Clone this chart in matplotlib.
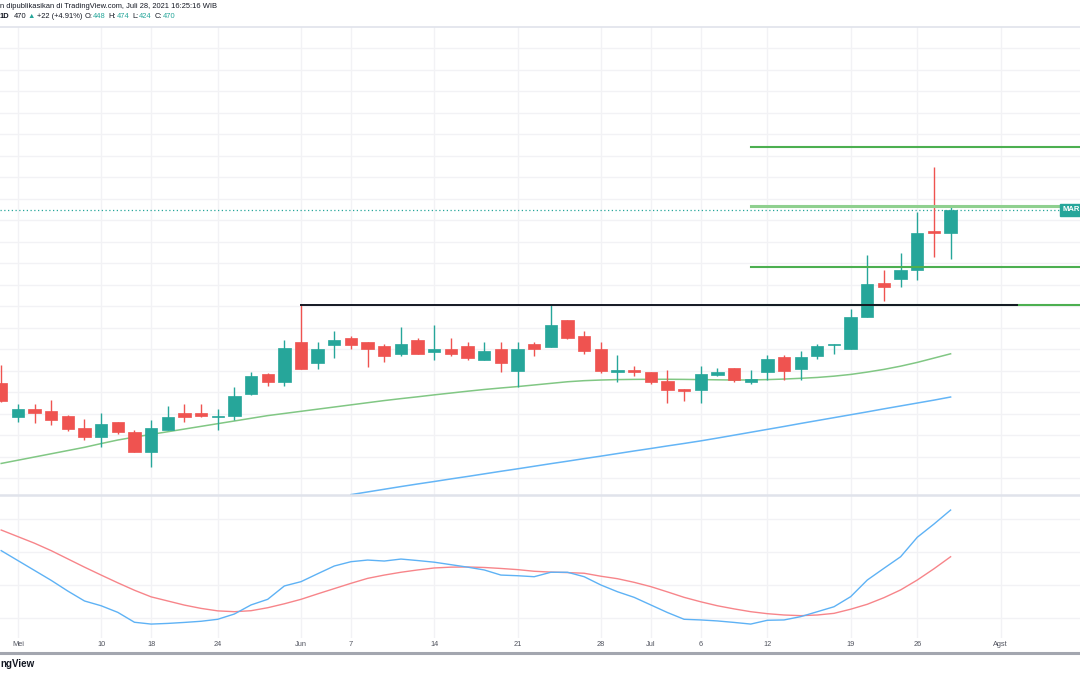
import matplotlib
matplotlib.use("Agg")
import matplotlib.pyplot as plt
from matplotlib.lines import Line2D

# ---------------- data ----------------
dates = ["04-30", "05-03", "05-04", "05-05", "05-06", "05-07", "05-10", "05-11", "05-17", "05-18",
         "05-19", "05-20", "05-21", "05-24", "05-25", "05-27", "05-28", "05-31", "06-02", "06-03",
         "06-04", "06-07", "06-08", "06-09", "06-10", "06-11", "06-14", "06-15", "06-16", "06-17",
         "06-18", "06-21", "06-22", "06-23", "06-24", "06-25", "06-28", "06-29", "06-30", "07-01",
         "07-02", "07-05", "07-06", "07-07", "07-08", "07-09", "07-12", "07-13", "07-14", "07-15",
         "07-16", "07-19", "07-21", "07-22", "07-23", "07-26", "07-27", "07-28"]
future_dates = ["07-29", "07-30", "08-02"]

opens = [309, 277, 285, 283, 278, 267, 259, 273, 263, 245,
         265, 281, 281, 277, 278, 299, 317, 310, 347, 327,
         344, 351, 347, 343, 336, 349, 338, 340, 343, 330,
         340, 320, 345, 342, 367, 353, 340, 319, 321, 319,
         311, 303, 302, 316, 323, 310, 319, 333, 322, 334,
         344, 340, 370, 402, 406, 414, 450, 448]
highs = [326, 289, 289, 293, 279, 275, 281, 273, 265, 274,
         287, 289, 289, 285, 305, 319, 318, 349, 381, 347,
         357, 353, 347, 345, 361, 351, 363, 351, 347, 347,
         347, 347, 347, 381, 367, 357, 347, 335, 325, 319,
         321, 303, 325, 323, 323, 321, 335, 335, 339, 345,
         345, 378, 428, 414, 430, 468, 510, 474]
lows = [291, 273, 272, 270, 264, 256, 249, 261, 245, 231,
        265, 273, 277, 265, 274, 298, 306, 306, 322, 322,
        332, 340, 324, 328, 334, 336, 330, 334, 330, 330,
        319, 305, 334, 342, 350, 336, 318, 310, 315, 308,
        290, 292, 290, 315, 310, 308, 312, 312, 312, 331,
        336, 340, 370, 385, 398, 405, 426, 424]
closes = [292, 285, 281, 274, 266, 259, 271, 263, 245, 267,
          277, 277, 278, 277, 297, 315, 310, 341, 322, 340,
          349, 344, 340, 334, 345, 336, 340, 336, 332, 339,
          327, 340, 340, 363, 351, 339, 320, 321, 319, 310,
          302, 301, 317, 319, 312, 313, 331, 320, 333, 343,
          345, 370, 401, 398, 414, 448, 448, 470]

ma_short = [234, 237, 240, 243, 246, 249, 252.5, 255.8, 258.5, 261,
            263.5, 266, 268.5, 271, 273.5, 276, 278.5, 280.5, 282.5, 284.5,
            286.5, 288.5, 290.5, 292.5, 294.3, 296, 297.8, 299.5, 301.2, 302.8,
            304.2, 305.5, 307, 308.5, 310, 311, 311.6, 312, 312.2, 312.3,
            312.3, 312.2, 312, 311.8, 311.6, 311.7, 312, 312.5, 313.2, 314,
            315.2, 316.8, 319, 321.5, 324.5, 328, 332, 336]
ma_long_start = "06-07"
ma_long = [205, 207.5, 210, 212.5, 214.9, 217.2, 219.6, 221.9, 224.3, 226.7,
           229, 231.4, 233.8, 236.1, 238.5, 240.8, 243.2, 245.6, 247.9, 250.3,
           252.6, 255, 257.6, 260.3, 263, 265.7, 268.4, 271.2, 273.9, 276.6,
           279.3, 282, 284.8, 287.5, 290.2, 292.9, 295.8]

osc_k = [61, 55, 49, 43, 36.5, 30.5, 27.6, 23.6, 17.6, 16.5,
         16.9, 17.5, 18.2, 19.4, 22.6, 28.1, 31.5, 39.6, 42.2, 47,
         51.7, 54.3, 55.3, 54.7, 55.9, 55, 54, 52.5, 51, 49.3,
         46.2, 45.8, 45.2, 47.9, 47.9, 45.2, 40.2, 36.1, 32.7, 28.1,
         23.5, 19.4, 19, 18.4, 17.5, 16.5, 18.8, 19, 21, 24,
         27, 33.1, 43.2, 50.3, 57.3, 69.1, 77.1, 85.6]
osc_d = [73.5, 69.5, 65.5, 61, 56, 51, 46.2, 41.5, 37, 33,
         30.5, 28, 26, 24.5, 24, 24.6, 26.4, 28.8, 31.5, 34.8,
         38, 41.2, 44.2, 46.2, 47.9, 49.3, 50.5, 51, 51.1, 50.8,
         50.2, 49.5, 48.5, 48, 47.7, 47.3, 45.5, 44, 41.8, 39.2,
         36, 32.7, 30, 27.6, 25.7, 24, 22.8, 22, 21.6, 22,
         23, 25.5, 28.5, 32.5, 37.2, 43.2, 50, 57.3]

resistance_level = 381
resistance_from = "06-02"
fib_levels = [528, 473.5, 417, 381]
fib_from = "07-09"
last_close = 470

tick_dates = ["05-03", "05-10", "05-18", "05-24", "06-02", "06-07", "06-14", "06-21",
              "06-28", "07-01", "07-06", "07-12", "07-19", "07-26", "08-02"]
tick_labels = ["Mei", "10", "18", "24", "Jun", "7", "14", "21", "28", "Jul", "6", "12",
               "19", "26", "Agst"]

header1 = "n dipublikasikan di TradingView.com, Juli 28, 2021 16:25:16 WIB"
# (text, colour, weight, gap after in px)
header2 = [("1D", "#131722", "bold", 4), ("470", "#131722", "normal", 1.5), ("\u25B2", "#26a69a", "normal", 1.5),
           ("+22 (+4.91%)", "#131722", "normal", 2.5), ("O:", "#131722", "normal", 0.8), ("448", "#26a69a", "normal", 2.5),
           ("H:", "#131722", "normal", 0.8), ("474", "#26a69a", "normal", 2.5), ("L:", "#131722", "normal", 0.8),
           ("424", "#26a69a", "normal", 2.5), ("C:", "#131722", "normal", 0.8), ("470", "#26a69a", "normal", 0)]

# ---------------- style ----------------
UP = "#26a69a"
DOWN = "#ef5350"
GRID = "#f2f2f5"
FONT = ["Liberation Sans", "DejaVu Sans"]
plt.rcParams["font.family"] = FONT

W, H = 1080, 675
fig = plt.figure(figsize=(W / 100, H / 100), dpi=100)
fig.patch.set_facecolor("white")


def fy(py):
    return 1 - py / H


ax = fig.add_axes([0, fy(495), 1, (495 - 27) / H])
ax2 = fig.add_axes([0, fy(638), 1, (638 - 495) / H], sharex=ax)

all_days = dates + future_dates
xs = list(range(len(dates)))
xlim = (-0.072, 64.77)

for a in (ax, ax2):
    a.set_facecolor("white")
    for s in a.spines.values():
        s.set_visible(False)
    a.tick_params(length=0)

ax.set_xlim(*xlim)
ax.set_ylim(204.65, 640)
ax2.set_ylim(8.06, 94.72)

tick_pos = [all_days.index(d) for d in tick_dates]
for a in (ax, ax2):
    for p in tick_pos:
        a.axvline(p, color=GRID, lw=1, zorder=0)
for g in range(220, 640, 20):
    ax.axhline(g, color=GRID, lw=1, zorder=0)
for g in range(20, 100, 20):
    ax2.axhline(g, color=GRID, lw=1, zorder=0)

# candles
bw = 0.74
for i in xs:
    o, h, l, c = opens[i], highs[i], lows[i], closes[i]
    col = UP if c >= o else DOWN
    ax.vlines(i, l, h, color=col, lw=1, zorder=3)
    bottom = min(o, c)
    height = max(abs(c - o), 1.3)
    ax.bar(i, height, bottom=bottom, width=bw, color=col, edgecolor=col, lw=0.5, zorder=4)

# moving averages
ax.plot(xs, ma_short, color="#81c784", lw=1.1, zorder=2)
s0 = dates.index(ma_long_start)
ax.plot(range(s0, s0 + len(ma_long)), ma_long, color="#64b5f6", lw=1.1, zorder=2)

# horizontal lines
f0 = dates.index(fib_from)
for lv in fib_levels:
    if lv == 473.5:
        ax.plot([f0, xlim[1]], [lv, lv], color="#8fd08f", lw=2.2, zorder=5)
    else:
        ax.plot([f0, xlim[1]], [lv, lv], color="#4caf50", lw=1.5, zorder=5)
r0 = dates.index(resistance_from)
ax.plot([r0, 61.0], [resistance_level, resistance_level], color="#131722", lw=1.4, zorder=6)

ax.axhline(last_close, color=UP, lw=0.9, ls=(0, (1, 2)), zorder=1)
ax.text(xlim[1], last_close, "MAR", color="white", fontsize=5.5, fontweight="bold",
        va="center", ha="right", zorder=7,
        bbox=dict(boxstyle="square,pad=0.3", fc=UP, ec=UP))

# oscillator
ax2.plot(xs, osc_k, color="#5eb2f5", lw=1.0, zorder=3)
ax2.plot(xs, osc_d, color="#f7858a", lw=1.0, zorder=2)

ax.set_xticks([])
ax.set_yticks([])
ax2.set_yticks([])
ax2.set_xticks(tick_pos)
ax2.set_xticklabels(tick_labels, fontsize=5.3, color="#50535e")
ax2.tick_params(axis="x", pad=2.5)

# figure lines
fig.add_artist(Line2D([0, 1], [fy(27), fy(27)], color="#e0e3eb", lw=1.2))
fig.add_artist(Line2D([0, 1], [fy(495), fy(495)], color="#e0e3eb", lw=1.8))
fig.add_artist(Line2D([0, 1], [fy(652.5), fy(652.5)], color="#a3a6af", lw=2.2))

# header
fig.text(0, fy(7), header1, fontsize=5.4, color="#131722", va="center", ha="left")
fig.canvas.draw()
renderer = fig.canvas.get_renderer()
xpix = 0.0
for txt, col, wt, gap in header2:
    t = fig.text(xpix / W, fy(17), txt, fontsize=5.4, color=col, fontweight=wt, va="center", ha="left")
    bb = t.get_window_extent(renderer=renderer)
    xpix = bb.x1 + gap

fig.text(0, fy(664), "ngView", fontsize=7, fontweight="bold", color="#131722", va="center", ha="left")

fig.savefig("out.png", dpi=100, facecolor="white")
